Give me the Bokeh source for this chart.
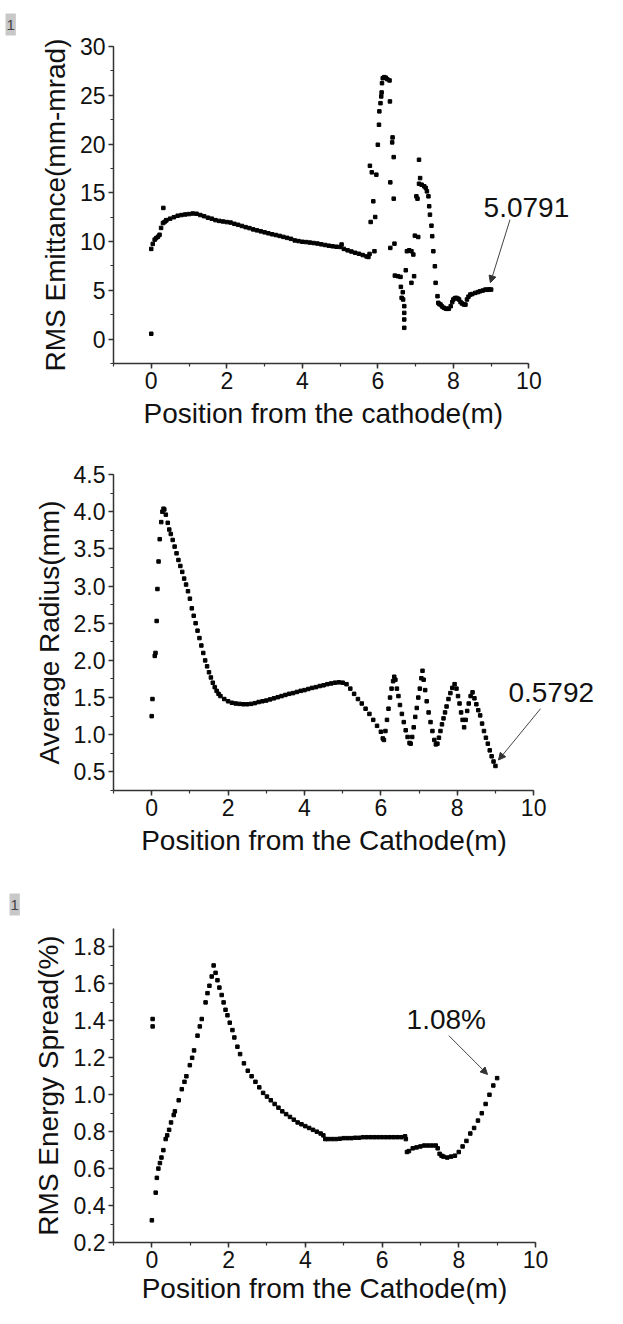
from bokeh.plotting import figure
from bokeh.layouts import column
from bokeh.models import (Range1d, SingleIntervalTicker, PrintfTickFormatter,
                          Label, Arrow, NormalHead, Title)
from bokeh.embed import file_html
from bokeh.resources import INLINE

FONT = "Liberation Sans"

# ---------------- Panel 1: RMS emittance ----------------
emit_x = [0.00, 0.00, 0.04, 0.09, 0.13, 0.18, 0.22, 0.26, 0.31, 0.32, 0.35, 0.39,
          0.4, 0.5, 0.6, 0.7, 0.8, 0.9, 1.0, 1.1, 1.2, 1.3, 1.4, 1.5, 1.6, 1.7, 1.8, 1.9,
          2.0, 2.1, 2.2, 2.3, 2.4, 2.5, 2.6, 2.7, 2.8, 2.9, 3.0, 3.1, 3.2, 3.3, 3.4, 3.5,
          3.6, 3.7, 3.8, 3.9, 4.0, 4.1, 4.2, 4.3, 4.4, 4.5, 4.6, 4.7, 4.8, 4.9, 5.0, 5.04,
          5.1, 5.2, 5.3, 5.4, 5.5, 5.6, 5.7, 5.75,
          5.78, 5.91, 5.81, 5.88, 5.93, 5.79, 5.84, 5.96, 6.00, 6.03, 6.04, 6.07, 6.09,
          6.10, 6.11, 6.13, 6.17, 6.21, 6.25, 6.31, 6.32, 6.39, 6.38, 6.42, 6.33, 6.42,
          6.44, 6.33, 6.45, 6.53, 6.60, 6.61, 6.66, 6.63, 6.67, 6.70, 6.70, 6.70, 6.70,
          6.74, 6.77, 6.83, 6.89, 6.94, 6.96, 6.89, 6.98, 7.07, 7.02, 7.05, 7.09, 7.12,
          7.09, 7.16, 7.23, 7.27, 7.30, 7.34, 7.36, 7.38, 7.42, 7.44, 7.47, 7.51, 7.53,
          7.58, 7.60, 7.63, 7.66, 7.70, 7.75, 7.80, 7.84, 7.88, 7.93, 7.97, 8.00, 8.04,
          8.08, 8.12, 8.15, 8.19, 8.23, 8.28, 8.32, 8.36, 8.40, 8.45, 8.50, 8.58, 8.65,
          8.71, 8.78, 8.85, 8.90, 8.95, 9.00]
emit_y = [0.55, 9.25, 9.76, 10.2, 10.36, 10.5, 10.7, 11.4, 11.9, 13.45, 12.0, 12.15,
          12.2, 12.35, 12.5, 12.65, 12.72, 12.78, 12.82, 12.88, 12.85, 12.72, 12.6, 12.45,
          12.35, 12.2, 12.12, 12.06, 12.0, 11.95, 11.82, 11.72, 11.6, 11.48, 11.38, 11.25,
          11.15, 11.05, 10.95, 10.85, 10.75, 10.67, 10.58, 10.48, 10.38, 10.28, 10.12,
          10.05, 9.98, 9.95, 9.9, 9.85, 9.8, 9.72, 9.65, 9.58, 9.52, 9.47, 9.45, 9.7,
          9.25, 9.1, 8.98, 8.85, 8.75, 8.62, 8.48, 8.42,
          8.73, 9.01, 12.01, 14.13, 12.52, 17.77, 17.10, 16.86, 19.93, 21.98, 23.35,
          24.19, 24.88, 25.29, 26.24, 26.75, 26.86, 26.8, 26.65, 26.52, 24.37, 20.68,
          20.17, 18.66, 16.07, 14.40, 9.79, 9.35, 6.51, 6.45, 6.38, 5.36, 4.81, 4.23,
          4.06, 3.38, 2.69, 2.01, 1.16, 7.06, 9.01, 9.11, 9.01, 8.67, 6.45, 5.77, 10.61,
          10.47, 14.64, 14.40, 18.39, 16.51, 15.93, 15.83, 15.66, 15.49, 15.15, 14.64,
          13.62, 12.76, 11.63, 10.55, 9.01, 7.47, 5.77, 4.40, 3.72, 3.60, 3.54, 3.35,
          3.21, 3.12, 3.10, 3.12, 3.38, 3.80, 4.06, 4.20, 4.23, 4.15, 4.06, 3.80, 3.65,
          3.55, 3.54, 4.06, 4.35, 4.57, 4.62, 4.74, 4.82, 4.91, 4.98, 5.08, 5.05, 5.10,
          5.08]

# ---------------- Panel 2: average radius ----------------
rad_x = [0.00, 0.02, 0.08, 0.10, 0.13, 0.15, 0.18, 0.21, 0.25, 0.28, 0.31, 0.33, 0.37,
         0.42, 0.46, 0.50, 0.55, 0.60, 0.65, 0.70, 0.75, 0.80, 0.85, 0.90, 0.95, 1.00,
         1.05, 1.10, 1.15, 1.20, 1.25, 1.30, 1.35, 1.40, 1.45, 1.50, 1.55, 1.60, 1.65,
         1.70, 1.75, 1.80, 1.90, 2.00, 2.10, 2.20, 2.30, 2.40, 2.50, 2.60, 2.70, 2.80,
         2.90, 3.00, 3.10, 3.20, 3.30, 3.40, 3.50, 3.60, 3.70, 3.80, 3.90, 4.00, 4.10,
         4.20, 4.30, 4.40, 4.50, 4.60, 4.70, 4.80, 4.90, 5.00, 5.10, 5.20, 5.30, 5.40,
         5.50, 5.60, 5.70, 5.80, 5.90, 6.00, 6.05, 6.08, 6.12, 6.16, 6.20, 6.24, 6.28,
         6.32, 6.35, 6.38, 6.42, 6.46, 6.50, 6.55, 6.60, 6.65, 6.70, 6.75, 6.78, 6.82,
         6.86, 6.90, 6.94, 6.98, 7.02, 7.06, 7.09, 7.12, 7.16, 7.20, 7.25, 7.30, 7.35,
         7.40, 7.44, 7.48, 7.52, 7.56, 7.60, 7.64, 7.68, 7.72, 7.77, 7.82, 7.87, 7.93,
         7.98, 8.02, 8.06, 8.10, 8.14, 8.18, 8.22, 8.26, 8.30, 8.35, 8.40, 8.45, 8.50,
         8.55, 8.60, 8.65, 8.70, 8.75, 8.80, 8.85, 8.90, 8.95, 9.00]
rad_y = [1.25, 1.48, 2.06, 2.10, 2.53, 2.96, 3.33, 3.63, 3.86, 4.00, 4.04, 4.03, 3.96,
         3.85, 3.76, 3.70, 3.62, 3.53, 3.44, 3.35, 3.27, 3.19, 3.10, 3.02, 2.93, 2.83,
         2.70, 2.60, 2.50, 2.40, 2.30, 2.20, 2.10, 2.00, 1.92, 1.84, 1.77, 1.70, 1.64,
         1.59, 1.55, 1.52, 1.48, 1.45, 1.43, 1.42, 1.415, 1.41, 1.41, 1.415, 1.425, 1.44,
         1.45, 1.46, 1.475, 1.49, 1.505, 1.52, 1.535, 1.55, 1.56, 1.575, 1.59, 1.60,
         1.615, 1.63, 1.64, 1.655, 1.665, 1.68, 1.69, 1.70, 1.705, 1.70, 1.68, 1.62,
         1.55, 1.48, 1.42, 1.35, 1.28, 1.20, 1.12, 1.04, 0.95, 0.93, 1.05, 1.20, 1.35,
         1.50, 1.62, 1.72, 1.78, 1.74, 1.62, 1.52, 1.40, 1.28, 1.17, 1.06, 0.97, 0.89,
         0.88, 0.97, 1.10, 1.24, 1.36, 1.50, 1.62, 1.76, 1.86, 1.74, 1.60, 1.45, 1.30,
         1.17, 1.05, 0.93, 0.87, 0.88, 0.96, 1.05, 1.14, 1.22, 1.30, 1.38, 1.48, 1.56,
         1.63, 1.68, 1.62, 1.52, 1.42, 1.30, 1.20, 1.10, 1.20, 1.32, 1.42, 1.52, 1.57,
         1.49, 1.41, 1.33, 1.26, 1.15, 1.05, 0.96, 0.88, 0.79, 0.71, 0.64, 0.58]

# ---------------- Panel 3: RMS energy spread ----------------
es_x = [0.00, 0.02, 0.02, 0.10, 0.13, 0.17, 0.21, 0.25, 0.30, 0.36, 0.40, 0.45, 0.50,
        0.57, 0.60, 0.70, 0.78, 0.85, 0.90, 0.99, 1.05, 1.10, 1.19, 1.25, 1.30, 1.40,
        1.45, 1.50, 1.56, 1.61, 1.66, 1.71, 1.76, 1.82, 1.87, 1.92, 1.97, 2.03, 2.10,
        2.15, 2.23, 2.30, 2.40, 2.50, 2.60, 2.70, 2.80, 2.90, 3.00, 3.10, 3.20, 3.30,
        3.40, 3.50, 3.60, 3.70, 3.80, 3.90, 4.00, 4.10, 4.20, 4.30, 4.40, 4.47, 4.52,
        4.60, 4.70, 4.80, 4.90, 5.00, 5.10, 5.20, 5.30, 5.40, 5.50, 5.60, 5.70, 5.80,
        5.90, 6.00, 6.10, 6.20, 6.30, 6.40, 6.50, 6.60, 6.62, 6.65, 6.70, 6.80, 6.90,
        7.00, 7.10, 7.20, 7.30, 7.40, 7.45, 7.50, 7.55, 7.60, 7.70, 7.80, 7.90, 8.00,
        8.10, 8.20, 8.30, 8.40, 8.50, 8.60, 8.70, 8.80, 8.90, 9.00]
es_y = [0.32, 1.41, 1.37, 0.47, 0.55, 0.60, 0.63, 0.66, 0.70, 0.76, 0.78, 0.81, 0.85,
        0.89, 0.91, 0.97, 1.03, 1.07, 1.10, 1.16, 1.20, 1.24, 1.32, 1.37, 1.41, 1.50,
        1.55, 1.59, 1.64, 1.70, 1.66, 1.62, 1.58, 1.54, 1.50, 1.46, 1.43, 1.39, 1.35,
        1.31, 1.26, 1.22, 1.17, 1.13, 1.10, 1.07, 1.04, 1.01, 0.99, 0.97, 0.95, 0.93,
        0.91, 0.895, 0.88, 0.865, 0.85, 0.84, 0.83, 0.82, 0.81, 0.80, 0.79, 0.78, 0.76,
        0.76, 0.76, 0.76, 0.762, 0.765, 0.765, 0.765, 0.767, 0.767, 0.77, 0.77, 0.77,
        0.77, 0.77, 0.77, 0.77, 0.77, 0.77, 0.77, 0.77, 0.775, 0.76, 0.69, 0.695, 0.71,
        0.715, 0.72, 0.725, 0.725, 0.725, 0.725, 0.71, 0.68, 0.67, 0.665, 0.66, 0.665,
        0.67, 0.69, 0.72, 0.75, 0.79, 0.82, 0.86, 0.90, 0.95, 1.00, 1.05, 1.09]

x_axis_bounds = (-1, 10)
x_ticks_interval = 2
x_label_1 = "Position from the cathode(m)"
x_label_23 = "Position from the Cathode(m)"
y_labels = ["RMS Emittance(mm-mrad)", "Average Radius(mm)", "RMS Energy Spread(%)"]
notes = ["5.0791", "0.5792", "1.08%"]
badge_text = "1"

FIG_W = 607
LABEL_PX = 28

# approximate Arial / Liberation Sans advance widths (em) used to centre a
# left-aligned title under the axis
_W = {"P": .667, "C": .722, "o": .556, "s": .5, "i": .222, "t": .278, "n": .556,
      " ": .278, "f": .278, "r": .333, "m": .833, "h": .556, "e": .556, "c": .5,
      "a": .556, "d": .556, "(": .333, ")": .333}


def text_width(s, px):
    return sum(_W.get(ch, .556) for ch in s) * px


def make_fig(height, yr, y_interval, y_fmt, xlabel, ylabel, left, axis_px,
             top, bottom, xstand, ystand, badge=None):
    # the frame runs to the right edge of the figure so that the notes are not
    # clipped; the x axis itself is bounded to -1..10 and spans axis_px pixels
    lo, hi = x_axis_bounds
    x_end = lo + (hi - lo) * (FIG_W - left) / axis_px
    p = figure(width=FIG_W, height=height, output_backend="svg",
               toolbar_location=None, x_range=Range1d(lo, x_end),
               y_range=Range1d(*yr), min_border_left=left,
               min_border_right=0, min_border_top=top,
               min_border_bottom=bottom)
    p.grid.visible = False
    p.outline_line_color = None
    p.background_fill_color = "white"
    p.border_fill_color = "white"
    p.xaxis.bounds = x_axis_bounds
    p.xaxis.ticker = SingleIntervalTicker(interval=x_ticks_interval, num_minor_ticks=2)
    p.yaxis.ticker = SingleIntervalTicker(interval=y_interval, num_minor_ticks=2)
    p.yaxis.formatter = PrintfTickFormatter(format=y_fmt)
    p.yaxis.axis_label = ylabel
    p.yaxis.axis_label_text_font = FONT
    p.yaxis.axis_label_text_font_size = f"{LABEL_PX}px"
    p.yaxis.axis_label_text_font_style = "normal"
    p.yaxis.axis_label_text_color = "#111111"
    p.yaxis.axis_label_standoff = ystand
    for ax in (p.xaxis, p.yaxis):
        ax.major_label_text_font = FONT
        ax.major_label_text_font_size = "23px"
        ax.major_label_text_color = "#111111"
        ax.axis_line_color = "#333333"
        ax.axis_line_width = 1.5
        ax.major_tick_line_color = "#333333"
        ax.minor_tick_line_color = "#333333"
        ax.major_tick_line_width = 1.5
        ax.minor_tick_line_width = 1.2
        ax.major_tick_out = 5
        ax.major_tick_in = 0
        ax.minor_tick_out = 3
        ax.minor_tick_in = 0
        ax.major_label_standoff = 3
    # x axis title, centred under the -1..10 axis (not the wider frame)
    offset = axis_px / 2.0 - text_width(xlabel, LABEL_PX) / 2.0
    xt = Title(text=xlabel, align="left", text_font=FONT,
               text_font_size=f"{LABEL_PX}px", text_font_style="normal",
               text_color="#111111", standoff=xstand, offset=offset)
    p.add_layout(xt, "below")
    if badge is not None:
        b_offset, b_standoff = badge
        p.title.text = badge_text
        p.title.align = "left"
        p.title.offset = b_offset
        p.title.standoff = b_standoff
        p.title.text_font = FONT
        p.title.text_font_size = "15px"
        p.title.text_font_style = "normal"
        p.title.text_color = "#444444"
        p.title.background_fill_color = "#c8c8c8"
        if hasattr(p.title, "padding"):
            try:
                p.title.padding = (1, 6)
            except Exception:
                p.title.padding = 3
    return p


def note(p, text, tx, ty, x0, y0, x1, y1):
    p.add_layout(Label(x=tx, y=ty, text=text, text_font=FONT, text_font_size="28px",
                       text_color="#111111", text_align="left",
                       text_baseline="middle"))
    p.add_layout(Arrow(end=NormalHead(size=7, fill_color="#333333",
                                      line_color="#333333"),
                       x_start=x0, y_start=y0, x_end=x1, y_end=y1,
                       line_color="#444444", line_width=1))


# Panel 1
p1 = make_fig(440, (-2.5, 30), 5, "%d", x_label_1, y_labels[0],
              108, 419.6, 45, 77, 9, 6, badge=(-108, 22))
p1.scatter(emit_x, emit_y, marker="square", size=3.5, color="black")
note(p1, notes[0], 8.8, 13.5, 9.5, 12.25, emit_x[-1] - 0.02, emit_y[-1] + 0.7)

# Panel 2
p2 = make_fig(427, (0.25, 4.5), 0.5, "%.1f", x_label_23, y_labels[1],
              112, 421, 34, 77, 9, 6)
p2.scatter(rad_x, rad_y, marker="square", size=3.5, color="black")
note(p2, notes[1], 9.34, 1.57, 10.18, 1.35, rad_x[-1] + 0.08, rad_y[-1] + 0.08)

# Panel 3
p3 = make_fig(441, (0.2, 1.9), 0.2, "%.1f", x_label_23, y_labels[2],
              113, 422, 61, 66, 0, 7, badge=(-104, 26))
p3.scatter(es_x, es_y, marker="square", size=3.5, color="black")
note(p3, notes[2], 6.64, 1.41, 7.74, 1.32, es_x[-1] - 0.25, es_y[-1] + 0.02)

layout = column(p1, p2, p3, spacing=0)
open("out.html", "w").write(file_html(layout, INLINE))
